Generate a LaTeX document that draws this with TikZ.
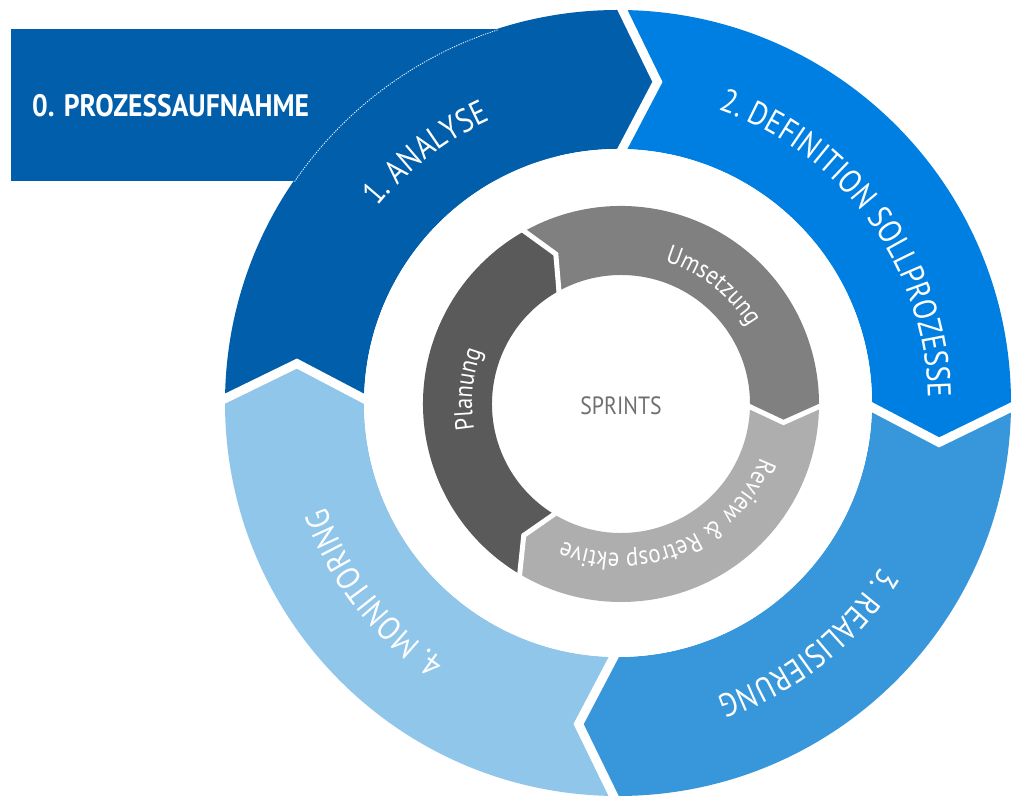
\documentclass[tikz,border=0pt]{standalone}
\usepackage{fontspec}
\setmainfont{PT Sans}
\newfontfamily\segfontfam[FakeStretch=0.87]{PT Sans}
\newfontfamily\boxfontfam[FakeStretch=0.89]{PT Sans}
\usetikzlibrary{decorations.text,calc}
\definecolor{segA}{HTML}{005EAA}
\definecolor{segB}{HTML}{007FE3}
\definecolor{segC}{HTML}{3897DA}
\definecolor{segD}{HTML}{8FC6EA}
\definecolor{grayA}{HTML}{5A5A5A}
\definecolor{grayB}{HTML}{808080}
\definecolor{grayC}{HTML}{AEAEAE}
\definecolor{sprintgray}{HTML}{6F6F6F}
\newcommand{\segfont}{\segfontfam\fontsize{33}{40}\selectfont\color{white}}
\newcommand{\ringfont}{\segfontfam\fontsize{26}{30}\selectfont\color{white}}
% center, start angle, end angle, R, r, mid, delta, colour
\newcommand{\ringseg}[8]{\fill[#8] ($(#1)+(#2:#4)$) arc[start angle=#2, end angle=#3, radius=#4] -- ($(#1)+({#3-#7}:#6)$) -- ($(#1)+(#3:#5)$) arc[start angle=#3, end angle=#2, radius=#5] -- ($(#1)+({#2-#7}:#6)$) -- cycle;}
\tikzset{
  outergap/.style={white, line width=9, line join=miter, miter limit=20},
  innergap/.style={white, line width=5, line join=miter, miter limit=20},
  arclabel/.style={decorate, decoration={text along path, text align=center, text={#1}}}
}
\begin{document}
\begin{tikzpicture}[x=1pt,y=1pt]
\useasboundingbox[fill=white] (0,0) rectangle (1012,799);
\coordinate (O) at (618,396);
\coordinate (I) at (621,395);
% box behind the ring
\fill[segA] (11,618) rectangle (560,770);
% outer ring
\ringseg{O}{180}{90}{393}{254}{323.5}{7}{segA}
\ringseg{O}{90}{0}{393}{254}{323.5}{7}{segB}
\ringseg{O}{0}{-90}{393}{254}{323.5}{7}{segC}
\ringseg{O}{-90}{-180}{393}{254}{323.5}{7}{segD}
\fill[white] (O) circle[radius=254];
\foreach \a in {90,0,-90,180}{
  \draw[outergap] ($(O)+(\a:402)$) -- ($(O)+({\a-7}:323.5)$) -- ($(O)+(\a:246)$);
}
\draw[white, line width=0.8, dash pattern=on 1.2 off 1.2] ($(O)+(145.6:392)$) arc[start angle=145.6, end angle=107.9, radius=392];
% inner ring
\ringseg{I}{240}{120}{198}{129}{163.5}{6.5}{grayA}
\ringseg{I}{120}{0}{198}{129}{163.5}{6.5}{grayB}
\ringseg{I}{0}{-120}{198}{129}{163.5}{6.5}{grayC}
\foreach \a in {120,0,240}{
  \draw[innergap] ($(I)+(\a:204)$) -- ($(I)+({\a-6.5}:163.5)$) -- ($(I)+(\a:123)$);
}
% labels
\node[anchor=base west, inner sep=0, text=white, font=\boxfontfam\bfseries\fontsize{31}{36}\selectfont] (boxlabel) at (32,682) {0. PROZESSAUFNAHME};
\path[arclabel={|\segfont|1. ANALYSE}] ($(O)+(187.5:310)$) arc[start angle=187.5, end angle=67.5, radius=310];
\path[arclabel={|\segfont|2. DEFINITION SOLLPROZESSE}] ($(O)+(96:310)$) arc[start angle=96, end angle=-24, radius=310];
\path[arclabel={|\segfont|3. REALISIERUNG}] ($(O)+(8.4:310)$) arc[start angle=8.4, end angle=-111.6, radius=310];
\path[arclabel={|\segfont|4. MONITORING}] ($(O)+(277.9:310)$) arc[start angle=277.9, end angle=157.9, radius=310];
\path[arclabel={|\ringfont|Planung}] ($(I)+(234.4:149)$) arc[start angle=234.4, end angle=114.4, radius=149];
\path[arclabel={|\ringfont|Umsetzung}] ($(I)+(112:149)$) arc[start angle=112, end angle=-8, radius=149];
\path[arclabel={|\ringfont|Review {\&} Retrosp ektive}] ($(I)+(-7:149)$) arc[start angle=-7, end angle=-127, radius=149];
\node[text=sprintgray, inner sep=0, font=\segfontfam\fontsize{25}{28}\selectfont] (sprints) at (621,393) {SPRINTS};
\end{tikzpicture}
\end{document}
